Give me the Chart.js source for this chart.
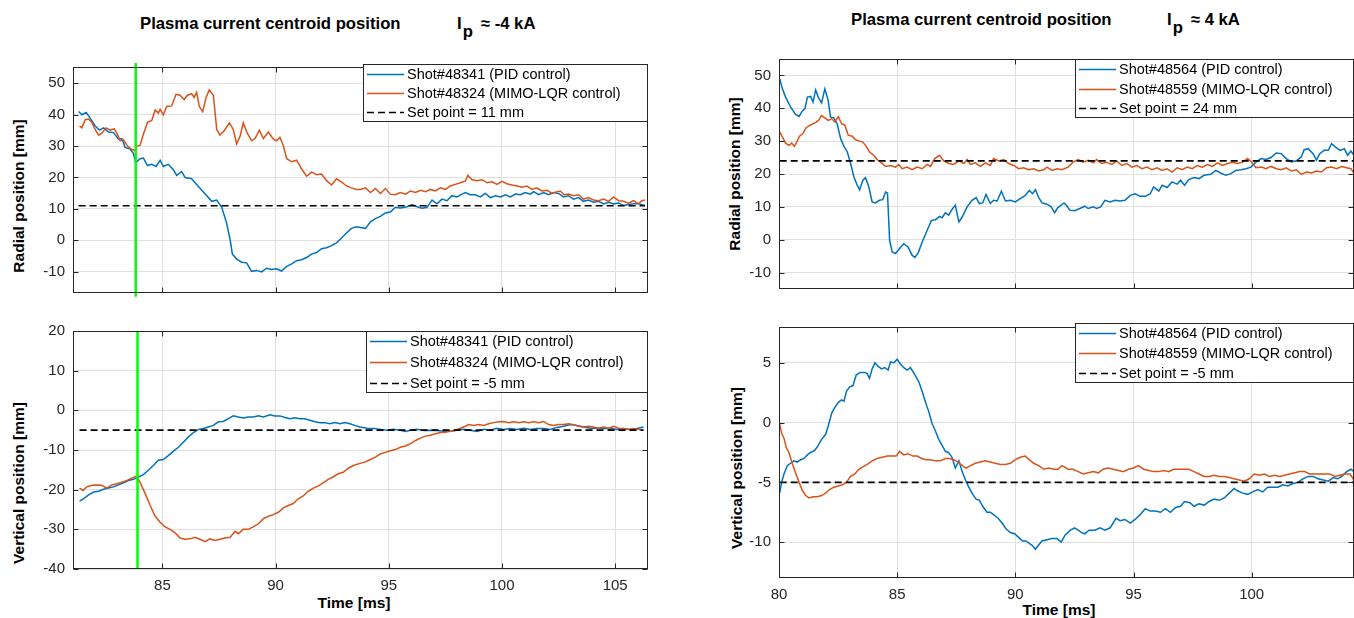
<!DOCTYPE html>
<html>
<head>
<meta charset="utf-8">
<script src="https://cdn.jsdelivr.net/npm/chart.js@4.4.1/dist/chart.umd.min.js"></script>
<style>
  body { margin: 0; width: 1354px; height: 618px; background: #fff; position: relative; overflow: hidden;
         font-family: "Liberation Sans", Arial, Helvetica, sans-serif; }
  canvas { position: absolute; }
  .title { position: absolute; font-weight: bold; font-size: 16.7px; line-height: 1; white-space: nowrap; color: #000; }
  .title .sub { position: relative; top: 8px; margin-left: 1px; }
  .title .approx { margin-left: 8px; }
  .ylab { position: absolute; font-weight: bold; font-size: 15.5px; line-height: 1; white-space: nowrap; color: #000;
          transform: translate(-50%, -50%) rotate(-90deg); }
  .xlab { position: absolute; font-weight: bold; font-size: 15.5px; line-height: 1; white-space: nowrap; color: #000;
          transform: translate(-50%, -50%); }
</style>
</head>
<body>
<div class="title" style="left:140px;top:16px">Plasma current centroid position</div>
<div class="title" style="left:457px;top:16px">I<span class="sub">p</span><span class="approx">≈ -4 kA</span></div>
<div class="title" style="left:851px;top:12px">Plasma current centroid position</div>
<div class="title" style="left:1167px;top:12px">I<span class="sub">p</span><span class="approx">≈ 4 kA</span></div>

<div class="ylab" style="left:19px;top:196px">Radial position [mm]</div>
<div class="ylab" style="left:19px;top:483px">Vertical position [mm]</div>
<div class="ylab" style="left:735px;top:174px">Radial position [mm]</div>
<div class="ylab" style="left:737px;top:468px">Vertical position [mm]</div>
<div class="xlab" style="left:354px;top:603px">Time [ms]</div>
<div class="xlab" style="left:1059px;top:610px">Time [ms]</div>

<canvas id="tl"></canvas>
<canvas id="bl"></canvas>
<canvas id="tr"></canvas>
<canvas id="br"></canvas>

<script>
// ---- data: [time ms, position mm] ----
const radialPidNeg = [[81.3,41.0],[81.44,40.0],[81.63,40.7],[81.81,38.9],[82.03,36.4],[82.22,35.1],[82.4,35.8],[82.62,34.5],[82.84,34.3],[83.06,32.2],[83.21,32.4],[83.35,29.6],[83.57,29.1],[83.72,27.6],[83.82,24.7],[84.01,26.0],[84.16,26.2],[84.34,23.8],[84.53,24.2],[84.72,23.5],[84.9,25.5],[85.04,23.5],[85.26,24.2],[85.49,22.4],[85.63,20.7],[85.85,21.9],[86.0,20.0],[86.29,19.6],[86.51,17.8],[86.74,15.9],[86.96,14.2],[87.18,12.4],[87.4,12.8],[87.62,10.5],[87.84,5.4],[87.99,0.2],[88.09,-4.4],[88.28,-6.0],[88.5,-7.0],[88.72,-7.2],[88.94,-9.9],[89.16,-9.6],[89.38,-10.1],[89.6,-8.9],[89.82,-9.3],[90.04,-9.1],[90.26,-9.8],[90.49,-8.3],[90.71,-7.5],[90.93,-6.5],[91.15,-6.2],[91.37,-5.5],[91.59,-4.4],[91.81,-3.9],[92.03,-2.7],[92.25,-2.4],[92.47,-1.7],[92.69,-0.8],[92.91,0.7],[93.13,2.3],[93.35,3.8],[93.57,4.3],[93.75,4.1],[93.97,3.8],[94.19,5.9],[94.41,6.9],[94.63,7.6],[94.85,8.7],[95.07,9.0],[95.29,10.5],[95.51,10.3],[95.81,10.7],[96.03,11.4],[96.25,10.7],[96.47,10.2],[96.69,10.5],[96.91,12.8],[97.13,11.6],[97.35,13.1],[97.57,12.6],[97.79,14.2],[98.01,13.8],[98.24,14.7],[98.38,15.2],[98.6,14.5],[98.82,14.5],[99.04,13.8],[99.26,14.9],[99.49,13.6],[99.71,14.2],[99.93,13.8],[100.15,14.5],[100.37,13.8],[100.59,14.7],[100.81,14.5],[101.03,15.2],[101.25,14.7],[101.4,15.5],[101.62,14.5],[101.84,15.2],[102.06,14.5],[102.28,15.2],[102.5,14.9],[102.72,13.8],[102.94,14.2],[103.16,13.1],[103.38,13.6],[103.6,12.4],[103.82,12.8],[104.04,12.1],[104.26,12.4],[104.49,11.6],[104.71,12.1],[104.93,11.6],[105.15,11.9],[105.37,11.1],[105.59,11.4],[105.81,11.6],[106.03,11.6],[106.32,11.1]];
const radialLqrNeg = [[81.34,36.4],[81.44,35.8],[81.59,38.4],[81.74,38.6],[81.88,37.6],[82.03,35.3],[82.18,33.5],[82.32,34.1],[82.51,35.8],[82.69,35.1],[82.87,35.5],[83.01,33.8],[83.13,31.7],[83.28,32.0],[83.46,30.0],[83.65,28.9],[83.79,28.6],[83.87,30.0],[84.01,30.2],[84.16,33.8],[84.34,37.6],[84.53,38.2],[84.68,41.5],[84.82,40.5],[84.9,41.7],[85.04,40.0],[85.19,42.6],[85.41,42.8],[85.6,46.5],[85.78,46.2],[85.96,44.8],[86.1,46.2],[86.29,46.7],[86.4,45.5],[86.51,47.1],[86.63,42.6],[86.78,41.0],[86.93,45.5],[87.07,47.9],[87.25,46.2],[87.4,35.3],[87.54,33.5],[87.72,34.8],[87.96,37.4],[88.13,35.3],[88.28,30.7],[88.43,33.1],[88.57,37.4],[88.75,34.1],[88.94,31.7],[89.09,32.4],[89.28,35.1],[89.46,32.4],[89.68,34.5],[89.9,32.2],[90.04,31.7],[90.19,32.8],[90.34,30.2],[90.49,26.0],[90.71,25.0],[90.93,25.5],[91.15,22.7],[91.37,20.4],[91.59,21.7],[91.81,20.9],[92.03,21.1],[92.25,19.0],[92.47,17.6],[92.69,19.6],[92.91,18.6],[93.13,17.3],[93.35,16.7],[93.57,16.2],[93.75,16.2],[93.97,16.7],[94.19,15.2],[94.41,16.5],[94.63,14.9],[94.85,16.5],[95.07,14.7],[95.29,14.5],[95.51,15.2],[95.74,14.7],[95.96,15.7],[96.18,15.2],[96.4,15.9],[96.62,15.5],[96.84,16.2],[97.06,15.7],[97.28,16.7],[97.5,16.2],[97.72,17.3],[97.94,17.8],[98.16,18.3],[98.38,18.8],[98.49,20.7],[98.68,19.3],[98.9,19.0],[99.12,19.3],[99.34,18.3],[99.56,18.6],[99.78,17.8],[100.0,18.8],[100.22,18.0],[100.44,17.6],[100.66,17.3],[100.88,16.9],[101.1,17.3],[101.32,16.2],[101.54,16.7],[101.76,15.7],[101.99,15.9],[102.21,14.9],[102.43,15.5],[102.57,15.7],[102.75,14.5],[102.94,14.7],[103.16,14.2],[103.38,14.5],[103.6,13.1],[103.82,13.6],[104.04,12.8],[104.26,12.6],[104.49,13.1],[104.71,12.4],[104.93,13.8],[105.15,12.6],[105.37,12.4],[105.59,11.8],[105.81,12.6],[106.03,11.6],[106.18,12.6],[106.32,12.8]];
const verticalPidNeg = [[81.34,-22.9],[81.51,-22.3],[81.74,-21.3],[81.96,-20.6],[82.18,-20.4],[82.4,-19.9],[82.62,-19.6],[82.84,-19.3],[83.06,-18.8],[83.28,-18.3],[83.5,-17.7],[83.72,-17.4],[83.94,-16.8],[84.16,-16.2],[84.38,-15.1],[84.6,-13.9],[84.82,-12.6],[85.04,-12.4],[85.26,-11.4],[85.49,-10.3],[85.71,-9.3],[85.93,-8.0],[86.15,-6.7],[86.37,-5.6],[86.59,-4.8],[86.81,-4.6],[87.03,-4.2],[87.25,-3.8],[87.47,-2.9],[87.69,-2.8],[87.91,-2.1],[88.13,-1.4],[88.35,-1.7],[88.57,-1.9],[88.79,-1.7],[89.01,-1.7],[89.24,-1.4],[89.46,-1.7],[89.75,-1.1],[89.97,-1.4],[90.19,-1.4],[90.41,-1.8],[90.63,-2.1],[90.85,-1.9],[91.07,-2.1],[91.29,-2.1],[91.51,-2.5],[91.74,-2.9],[91.96,-3.1],[92.18,-3.1],[92.4,-3.4],[92.62,-3.1],[92.84,-3.4],[93.06,-3.1],[93.28,-3.4],[93.5,-3.8],[93.72,-4.2],[93.94,-4.4],[94.04,-4.5],[94.34,-4.6],[94.63,-4.8],[94.93,-5.0],[95.22,-4.8],[95.51,-5.0],[95.74,-5.3],[95.96,-5.0],[96.25,-4.8],[96.54,-5.1],[96.84,-5.0],[97.13,-5.1],[97.43,-5.3],[97.72,-5.3],[98.01,-5.0],[98.31,-4.8],[98.6,-5.0],[98.9,-5.3],[99.19,-4.8],[99.49,-5.0],[99.78,-4.5],[100.07,-4.8],[100.37,-4.6],[100.66,-4.8],[100.96,-4.5],[101.25,-4.8],[101.54,-4.6],[101.84,-4.6],[102.13,-4.8],[102.43,-4.3],[102.72,-4.0],[103.01,-3.6],[103.31,-3.8],[103.6,-4.2],[103.9,-4.5],[104.19,-4.5],[104.49,-4.6],[104.78,-4.5],[105.07,-4.8],[105.37,-4.6],[105.66,-4.8],[105.96,-4.6],[106.25,-4.2]];
const verticalLqrNeg = [[81.34,-19.6],[81.49,-20.2],[81.66,-19.3],[81.88,-18.9],[82.1,-18.8],[82.32,-18.9],[82.54,-19.6],[82.76,-18.8],[82.99,-18.5],[83.21,-18.1],[83.43,-17.7],[83.65,-17.1],[83.84,-16.6],[84.01,-18.1],[84.24,-21.0],[84.46,-24.0],[84.68,-26.7],[84.9,-28.2],[85.12,-29.4],[85.34,-30.0],[85.56,-30.9],[85.78,-32.2],[86.0,-32.5],[86.22,-32.4],[86.44,-32.0],[86.66,-32.5],[86.88,-33.1],[87.1,-32.4],[87.32,-32.8],[87.54,-32.5],[87.76,-32.2],[87.99,-32.0],[88.21,-30.5],[88.35,-31.1],[88.57,-30.0],[88.79,-30.0],[89.01,-29.4],[89.24,-28.6],[89.46,-27.3],[89.68,-26.7],[89.9,-26.3],[90.12,-25.7],[90.34,-24.6],[90.56,-24.0],[90.78,-23.5],[91.0,-22.3],[91.22,-21.6],[91.44,-20.4],[91.66,-19.6],[91.88,-19.1],[92.1,-18.3],[92.32,-17.4],[92.54,-16.8],[92.76,-16.0],[92.99,-15.6],[93.21,-14.6],[93.43,-13.9],[93.65,-13.5],[93.97,-13.0],[94.19,-12.4],[94.41,-11.8],[94.63,-11.0],[94.85,-10.6],[95.07,-10.2],[95.29,-9.9],[95.51,-9.3],[95.74,-9.0],[95.96,-8.4],[96.18,-7.6],[96.4,-7.0],[96.62,-6.5],[96.84,-6.3],[97.06,-5.9],[97.28,-5.6],[97.5,-5.5],[97.72,-5.3],[97.94,-5.0],[98.16,-4.5],[98.38,-4.0],[98.53,-3.6],[98.75,-3.8],[98.97,-3.6],[99.19,-3.8],[99.41,-3.4],[99.63,-3.1],[99.85,-2.9],[100.07,-2.8],[100.29,-3.1],[100.51,-2.9],[100.74,-3.1],[100.96,-2.9],[101.18,-3.1],[101.4,-2.9],[101.62,-3.1],[101.84,-2.8],[102.06,-3.6],[102.28,-3.8],[102.5,-3.6],[102.72,-3.6],[102.94,-3.4],[103.16,-3.6],[103.38,-4.0],[103.6,-4.2],[103.82,-4.0],[104.04,-4.2],[104.26,-4.5],[104.49,-4.2],[104.71,-4.5],[104.93,-4.0],[105.15,-4.5],[105.37,-4.6],[105.59,-4.8],[105.81,-4.6],[106.03,-4.8],[106.25,-5.0]];
const radialPidPos = [[80.03,49.0],[80.14,46.0],[80.28,43.4],[80.49,40.4],[80.7,38.1],[80.85,37.5],[80.99,39.2],[81.1,39.9],[81.2,43.4],[81.34,43.6],[81.44,41.9],[81.55,45.6],[81.66,43.4],[81.8,41.6],[81.94,45.9],[82.08,42.4],[82.18,37.3],[82.32,37.1],[82.46,35.3],[82.61,30.7],[82.75,28.4],[82.89,26.7],[83.03,23.2],[83.17,19.1],[83.31,16.6],[83.41,15.2],[83.55,18.1],[83.66,18.9],[83.8,16.1],[83.94,11.5],[84.08,11.2],[84.25,12.0],[84.39,12.2],[84.51,14.5],[84.59,14.2],[84.68,-0.2],[84.79,-3.7],[84.93,-4.2],[85.1,-2.7],[85.28,-1.2],[85.46,-2.2],[85.63,-4.7],[85.75,-5.4],[85.89,-4.0],[86.06,-0.7],[86.27,2.9],[86.45,5.9],[86.62,6.1],[86.79,7.1],[86.9,6.7],[87.04,8.2],[87.18,7.5],[87.32,9.2],[87.46,10.5],[87.61,5.4],[87.75,6.9],[87.96,10.0],[88.17,12.0],[88.34,12.8],[88.48,11.0],[88.62,11.2],[88.76,13.8],[88.94,11.0],[89.08,12.0],[89.23,11.8],[89.41,14.8],[89.58,11.8],[89.79,12.0],[90.0,11.5],[90.21,12.5],[90.42,13.5],[90.59,15.0],[90.73,14.0],[90.85,15.2],[90.99,12.8],[91.13,11.2],[91.34,10.8],[91.52,10.0],[91.66,8.2],[91.8,9.8],[91.94,10.5],[92.06,11.2],[92.16,10.5],[92.3,9.0],[92.51,8.8],[92.73,9.5],[92.94,10.2],[93.08,9.5],[93.3,10.0],[93.44,9.5],[93.61,10.0],[93.79,12.0],[94.01,11.5],[94.22,12.0],[94.43,11.8],[94.64,12.0],[94.86,13.5],[95.07,14.0],[95.28,13.2],[95.5,13.2],[95.71,14.0],[95.85,16.1],[96.07,14.8],[96.21,16.6],[96.42,15.9],[96.63,17.6],[96.85,16.9],[96.99,18.1],[97.16,16.6],[97.34,18.3],[97.56,18.9],[97.77,18.6],[97.98,19.6],[98.27,19.9],[98.48,21.1],[98.69,20.3],[98.91,19.6],[99.12,20.1],[99.33,21.1],[99.55,21.3],[99.76,21.6],[99.97,22.1],[100.18,23.6],[100.4,24.7],[100.61,24.4],[100.82,25.0],[101.04,26.4],[101.25,26.2],[101.46,24.7],[101.68,23.7],[101.89,24.0],[102.1,25.2],[102.22,27.4],[102.39,27.7],[102.6,26.2],[102.74,24.2],[102.88,26.2],[103.07,27.2],[103.24,27.2],[103.38,29.2],[103.55,28.2],[103.74,27.2],[103.92,27.7],[104.06,25.7],[104.2,27.0],[104.33,25.7]];
const radialLqrPos = [[80.03,32.8],[80.14,31.3],[80.28,29.4],[80.42,28.7],[80.54,29.4],[80.65,28.4],[80.77,30.0],[80.87,31.5],[81.01,32.3],[81.15,34.1],[81.3,34.8],[81.44,35.3],[81.58,35.8],[81.69,36.5],[81.8,37.8],[81.94,37.1],[82.08,36.3],[82.23,36.8],[82.37,35.8],[82.51,37.5],[82.65,35.3],[82.79,34.8],[82.93,31.8],[83.1,31.5],[83.24,30.4],[83.41,30.0],[83.55,29.7],[83.69,28.4],[83.83,26.7],[84.01,25.7],[84.15,24.4],[84.34,23.4],[84.51,22.3],[84.72,22.6],[84.93,22.1],[85.07,22.9],[85.21,21.6],[85.42,22.1],[85.63,21.3],[85.85,22.1],[86.06,21.6],[86.27,22.9],[86.41,22.3],[86.59,24.7],[86.79,25.7],[86.97,24.0],[87.18,23.2],[87.39,22.9],[87.61,24.0],[87.82,23.2],[87.96,24.4],[88.1,22.9],[88.31,23.4],[88.52,22.3],[88.73,23.4],[88.94,22.6],[89.08,24.7],[89.3,24.0],[89.51,24.4],[89.72,23.2],[89.93,22.6],[90.14,21.6],[90.35,21.9],[90.56,21.3],[90.77,21.6],[90.99,20.9],[91.2,21.3],[91.34,22.1],[91.55,21.1],[91.76,21.6],[91.97,21.3],[92.23,22.1],[92.44,23.6],[92.66,24.4],[92.87,23.6],[93.08,24.2],[93.3,23.4],[93.44,24.4],[93.65,23.2],[93.86,23.6],[94.08,22.9],[94.29,24.0],[94.5,22.6],[94.72,23.2],[94.93,22.1],[95.14,22.6],[95.36,21.6],[95.57,22.1],[95.78,21.3],[96.0,21.9],[96.21,21.1],[96.42,21.6],[96.63,20.6],[96.85,21.9],[97.06,21.3],[97.27,22.1],[97.49,21.6],[97.7,22.6],[97.91,22.1],[98.13,22.9],[98.34,22.3],[98.55,23.4],[98.76,22.6],[98.98,23.2],[99.19,23.6],[99.4,23.2],[99.62,23.6],[99.83,24.7],[100.0,23.6],[100.18,21.9],[100.4,22.1],[100.61,21.6],[100.82,22.3],[101.04,21.6],[101.25,21.3],[101.46,21.9],[101.68,20.9],[101.89,21.3],[102.1,19.9],[102.32,20.6],[102.53,20.3],[102.74,20.9],[102.95,20.6],[103.17,21.9],[103.38,22.1],[103.59,21.6],[103.81,22.3],[104.02,21.9],[104.2,21.6],[104.33,20.3]];
const verticalPidPos = [[80.03,-5.9],[80.11,-5.0],[80.21,-4.3],[80.35,-3.6],[80.49,-3.4],[80.63,-3.2],[80.77,-3.3],[80.92,-3.1],[81.06,-3.0],[81.2,-2.7],[81.34,-2.5],[81.52,-2.3],[81.66,-1.9],[81.8,-1.4],[81.97,-1.0],[82.08,-0.3],[82.23,0.8],[82.37,1.3],[82.51,1.7],[82.65,1.9],[82.75,1.8],[82.85,2.6],[82.99,3.0],[83.13,3.1],[83.27,4.0],[83.45,4.2],[83.63,4.2],[83.73,4.1],[83.83,3.7],[83.94,4.5],[84.06,5.0],[84.2,4.7],[84.34,4.5],[84.48,4.6],[84.62,4.4],[84.72,5.1],[84.86,5.0],[85.0,5.3],[85.14,4.9],[85.28,4.6],[85.42,4.4],[85.56,4.6],[85.75,4.0],[85.92,3.4],[86.06,2.6],[86.2,1.7],[86.34,0.9],[86.48,-0.1],[86.62,-0.7],[86.76,-1.4],[86.9,-1.9],[87.04,-2.4],[87.18,-2.5],[87.32,-2.9],[87.46,-3.8],[87.61,-3.2],[87.75,-4.1],[87.89,-4.8],[88.03,-5.4],[88.2,-6.0],[88.34,-6.4],[88.48,-6.5],[88.62,-7.0],[88.8,-7.5],[88.94,-7.5],[89.08,-7.7],[89.27,-8.0],[89.44,-8.4],[89.61,-8.9],[89.79,-9.2],[89.97,-9.3],[90.14,-9.6],[90.31,-9.9],[90.45,-9.9],[90.59,-10.1],[90.73,-10.3],[90.85,-10.6],[90.96,-10.3],[91.13,-9.9],[91.34,-9.8],[91.55,-9.7],[91.76,-9.7],[91.94,-10.0],[92.11,-9.4],[92.33,-9.0],[92.51,-8.8],[92.66,-9.0],[92.8,-9.2],[92.94,-9.3],[93.12,-9.0],[93.37,-9.0],[93.58,-8.8],[93.79,-9.0],[94.01,-8.8],[94.26,-8.0],[94.43,-8.2],[94.64,-8.1],[94.86,-8.4],[95.07,-8.1],[95.28,-7.7],[95.5,-7.2],[95.71,-7.4],[95.92,-7.4],[96.14,-7.5],[96.35,-7.2],[96.56,-7.5],[96.78,-7.1],[96.99,-7.0],[97.16,-6.6],[97.39,-6.7],[97.56,-7.0],[97.77,-6.8],[98.0,-6.9],[98.2,-6.6],[98.41,-6.4],[98.62,-6.5],[98.84,-6.3],[99.05,-5.9],[99.26,-5.5],[99.4,-5.7],[99.62,-5.9],[99.83,-6.0],[100.04,-5.8],[100.26,-5.6],[100.47,-5.8],[100.68,-5.4],[100.9,-5.4],[101.11,-5.4],[101.32,-5.2],[101.53,-5.3],[101.75,-5.1],[101.96,-5.0],[102.17,-4.7],[102.39,-4.5],[102.6,-4.5],[102.81,-4.7],[103.03,-4.8],[103.24,-4.9],[103.45,-4.6],[103.64,-4.7],[103.81,-4.5],[104.02,-4.1],[104.2,-3.9],[104.33,-4.1]];
const verticalLqrPos = [[80.03,-0.1],[80.11,-0.9],[80.21,-1.3],[80.31,-2.1],[80.42,-2.5],[80.56,-3.4],[80.7,-4.2],[80.85,-5.0],[80.99,-5.7],[81.13,-6.1],[81.27,-6.3],[81.44,-6.2],[81.62,-6.2],[81.8,-6.1],[81.97,-5.9],[82.14,-5.6],[82.32,-5.4],[82.51,-5.3],[82.68,-5.2],[82.85,-5.0],[83.03,-4.5],[83.21,-4.3],[83.38,-3.9],[83.55,-3.7],[83.73,-3.5],[83.94,-3.2],[84.15,-3.0],[84.37,-2.9],[84.58,-2.8],[84.79,-2.8],[84.96,-2.8],[85.1,-2.4],[85.28,-2.7],[85.46,-2.6],[85.66,-2.8],[85.85,-2.8],[86.03,-3.0],[86.23,-3.1],[86.41,-3.1],[86.62,-3.2],[86.83,-3.2],[87.04,-3.0],[87.21,-3.0],[87.39,-3.1],[87.58,-3.3],[87.75,-3.6],[87.92,-3.8],[88.1,-3.6],[88.31,-3.4],[88.52,-3.3],[88.73,-3.2],[88.94,-3.3],[89.15,-3.4],[89.37,-3.5],[89.58,-3.5],[89.79,-3.4],[90.0,-3.1],[90.21,-2.9],[90.42,-2.8],[90.59,-3.1],[90.77,-3.4],[90.99,-3.6],[91.2,-3.9],[91.41,-3.8],[91.62,-3.9],[91.8,-3.9],[91.97,-3.6],[92.23,-3.9],[92.44,-3.9],[92.66,-4.1],[92.87,-4.3],[93.08,-4.2],[93.3,-4.1],[93.51,-4.2],[93.72,-3.9],[93.93,-3.8],[94.15,-3.9],[94.36,-4.0],[94.57,-4.1],[94.79,-3.9],[95.0,-3.8],[95.21,-3.6],[95.43,-3.9],[95.64,-4.0],[95.85,-4.1],[96.07,-4.1],[96.28,-4.0],[96.49,-4.1],[96.7,-3.9],[96.92,-3.9],[97.13,-3.9],[97.34,-3.9],[97.56,-4.1],[97.77,-4.3],[97.98,-4.5],[98.2,-4.5],[98.41,-4.4],[98.62,-4.5],[98.84,-4.5],[99.05,-4.6],[99.26,-4.7],[99.47,-4.8],[99.69,-4.9],[99.9,-4.7],[100.11,-4.3],[100.33,-4.4],[100.54,-4.3],[100.75,-4.5],[100.97,-4.4],[101.18,-4.5],[101.39,-4.4],[101.6,-4.3],[101.82,-4.2],[102.03,-4.1],[102.24,-4.1],[102.46,-4.3],[102.67,-4.3],[102.88,-4.3],[103.1,-4.3],[103.31,-4.3],[103.52,-4.5],[103.74,-4.4],[103.95,-4.3],[104.16,-4.3],[104.33,-4.8]];

const timeTicksNeg = [85, 90, 95, 100, 105];
const timeTicksPos = [80, 85, 90, 95, 100];
const radialTicksNeg = [-10, 0, 10, 20, 30, 40, 50];
const verticalTicksNeg = [-40, -30, -20, -10, 0, 10, 20];
const radialTicksPos = [-10, 0, 10, 20, 30, 40, 50];
const verticalTicksPos = [-10, -5, 0, 5];

const shotLabelsNeg = ['Shot#48341 (PID control)', 'Shot#48324 (MIMO-LQR control)'];
const shotLabelsPos = ['Shot#48564 (PID control)', 'Shot#48559 (MIMO-LQR control)'];
const setPoints = [11, -5, 24, -5];           // mm: radial -4 kA, vertical -4 kA, radial 4 kA, vertical 4 kA
const triggerTimes = [83.82, 83.9];          // ms, green marker in the -4 kA panels
const triggerSpans = [[-18, 56.5], [-40, 20]];

const BLUE = '#0072BD', ORANGE = '#D95319', AXIS = '#262626', GRID = '#e0e0e0';
const FONT = '"Liberation Sans", Arial, Helvetica, sans-serif';

// panel layout: canvas box (page px) and plot box (page px)
const panels = [
  { id: 'tl', box: [0, 50, 680, 260], area: [73, 64, 648, 296], x: [81.05, 106.45], y: [-16.8, 55.2],
    xTicks: timeTicksNeg, yTicks: radialTicksNeg, xLabels: false, series: [radialPidNeg, radialLqrNeg],
    labels: shotLabelsNeg, setPoint: setPoints[0], trigger: 0, legend: [363, 64, 648, 122] },
  { id: 'bl', box: [0, 310, 680, 308], area: [73, 331, 648, 569], x: [81.05, 106.45], y: [-40, 20],
    xTicks: timeTicksNeg, yTicks: verticalTicksNeg, xLabels: true, series: [verticalPidNeg, verticalLqrNeg],
    labels: shotLabelsNeg, setPoint: setPoints[1], trigger: 1, legend: [366, 331, 648, 393] },
  { id: 'tr', box: [680, 40, 674, 270], area: [779, 59, 1354, 289], x: [80, 104.33], y: [-15, 55],
    xTicks: timeTicksPos, yTicks: radialTicksPos, xLabels: false, series: [radialPidPos, radialLqrPos],
    labels: shotLabelsPos, setPoint: setPoints[2], trigger: -1, legend: [1075, 59, 1354, 118] },
  { id: 'br', box: [680, 310, 674, 308], area: [779, 323, 1354, 578], x: [80, 104.33], y: [-13, 8],
    xTicks: timeTicksPos, yTicks: verticalTicksPos, xLabels: true, series: [verticalPidPos, verticalLqrPos],
    labels: shotLabelsPos, setPoint: setPoints[3], trigger: -1, legend: [1075, 323, 1354, 383] }
];

// MATLAB-like box, inward ticks and legend
function makeFrame(p) {
  return {
    id: 'frame_' + p.id,
    afterDraw(chart) {
      const ctx = chart.ctx, a = chart.chartArea, xs = chart.scales.x, ys = chart.scales.y;
      const L = Math.round(a.left) + 0.5, R = Math.round(a.right) - 0.5;
      const T = Math.round(a.top) + 0.5, B = Math.round(a.bottom) - 0.5;
      ctx.save();
      ctx.strokeStyle = AXIS;
      ctx.lineWidth = 1;
      ctx.beginPath();
      p.xTicks.forEach(v => {
        const px = Math.round(xs.getPixelForValue(v)) + 0.5;
        ctx.moveTo(px, B); ctx.lineTo(px, B - 5);
        ctx.moveTo(px, T); ctx.lineTo(px, T + 5);
      });
      p.yTicks.forEach(v => {
        const py = Math.round(ys.getPixelForValue(v)) + 0.5;
        ctx.moveTo(L, py); ctx.lineTo(L + 5, py);
        ctx.moveTo(R, py); ctx.lineTo(R - 5, py);
      });
      ctx.stroke();
      ctx.strokeRect(L, T, R - L, B - T);

      // legend
      const lx = p.legend[0] - p.box[0], ly = p.legend[1] - p.box[1];
      const lw = p.legend[2] - p.legend[0], lh = p.legend[3] - p.legend[1];
      ctx.fillStyle = '#fff';
      ctx.fillRect(lx, ly, lw, lh);
      ctx.strokeStyle = AXIS;
      ctx.strokeRect(lx + 0.5, ly + 0.5, lw - 1, lh - 1);
      ctx.font = '14.5px ' + FONT;
      ctx.textBaseline = 'middle';
      ctx.textAlign = 'left';
      const items = chart.data.datasets.filter(d => d.inLegend);
      items.forEach((d, i) => {
        const y = Math.round(ly + lh * (2 * i + 1) / 6) + 0.5;
        ctx.beginPath();
        ctx.setLineDash(d.borderDash || []);
        ctx.strokeStyle = d.borderColor;
        ctx.lineWidth = d.borderWidth;
        ctx.moveTo(lx + 4, y);
        ctx.lineTo(lx + 41, y);
        ctx.stroke();
        ctx.setLineDash([]);
        ctx.fillStyle = '#000';
        ctx.fillText(d.label, lx + 44, y);
      });
      ctx.restore();
    }
  };
}

const toPts = arr => arr.map(([t, v]) => ({ x: t, y: v }));

panels.forEach(p => {
  const cv = document.getElementById(p.id);
  const [cl, ct, cw, ch] = p.box;
  cv.width = cw; cv.height = ch;
  cv.style.left = cl + 'px'; cv.style.top = ct + 'px';
  cv.style.width = cw + 'px'; cv.style.height = ch + 'px';

  const [pid, lqr] = p.series;
  const tStart = Math.min(pid[0][0], lqr[0][0]);
  const tEnd = Math.max(pid[pid.length - 1][0], lqr[lqr.length - 1][0]);

  const datasets = [
    { label: p.labels[0], data: toPts(pid), borderColor: BLUE, borderWidth: 1.5, order: 3, inLegend: true },
    { label: p.labels[1], data: toPts(lqr), borderColor: ORANGE, borderWidth: 1.5, order: 2, inLegend: true },
    { label: 'Set point = ' + p.setPoint + ' mm', data: [{ x: tStart, y: p.setPoint }, { x: tEnd, y: p.setPoint }],
      borderColor: '#000', borderWidth: 1.6, borderDash: [7, 4], order: 1, inLegend: true }
  ];
  if (p.trigger >= 0) {
    const tt = triggerTimes[p.trigger], span = triggerSpans[p.trigger];
    datasets.push({ label: '', data: [{ x: tt, y: span[0] }, { x: tt, y: span[1] }],
      borderColor: '#00ff00', borderWidth: 2.5, order: 0, clip: false, inLegend: false });
  }
  datasets.forEach(d => { d.pointRadius = 0; d.tension = 0; d.fill = false; });

  new Chart(cv, {
    type: 'line',
    data: { datasets },
    options: {
      responsive: false,
      animation: false,
      devicePixelRatio: 1,
      layout: { padding: { left: 0, bottom: 0, top: p.area[1] - ct, right: cl + cw - p.area[2] } },
      plugins: { legend: { display: false }, tooltip: { enabled: false } },
      scales: {
        x: {
          type: 'linear', min: p.x[0], max: p.x[1],
          afterBuildTicks: s => { s.ticks = p.xTicks.map(v => ({ value: v })); },
          afterFit: s => { s.height = ct + ch - p.area[3]; },
          grid: { color: GRID, lineWidth: 1, drawTicks: false },
          border: { display: false },
          ticks: { display: p.xLabels, color: AXIS, font: { size: 15, family: FONT }, padding: 8, maxRotation: 0, autoSkip: false }
        },
        y: {
          type: 'linear', min: p.y[0], max: p.y[1],
          afterBuildTicks: s => { s.ticks = p.yTicks.map(v => ({ value: v })); },
          afterFit: s => { s.width = p.area[0] - cl; },
          grid: { color: GRID, lineWidth: 1, drawTicks: false },
          border: { display: false },
          ticks: { color: AXIS, font: { size: 15, family: FONT }, padding: 8 }
        }
      }
    },
    plugins: [makeFrame(p)]
  });
});
</script>
</body>
</html>
